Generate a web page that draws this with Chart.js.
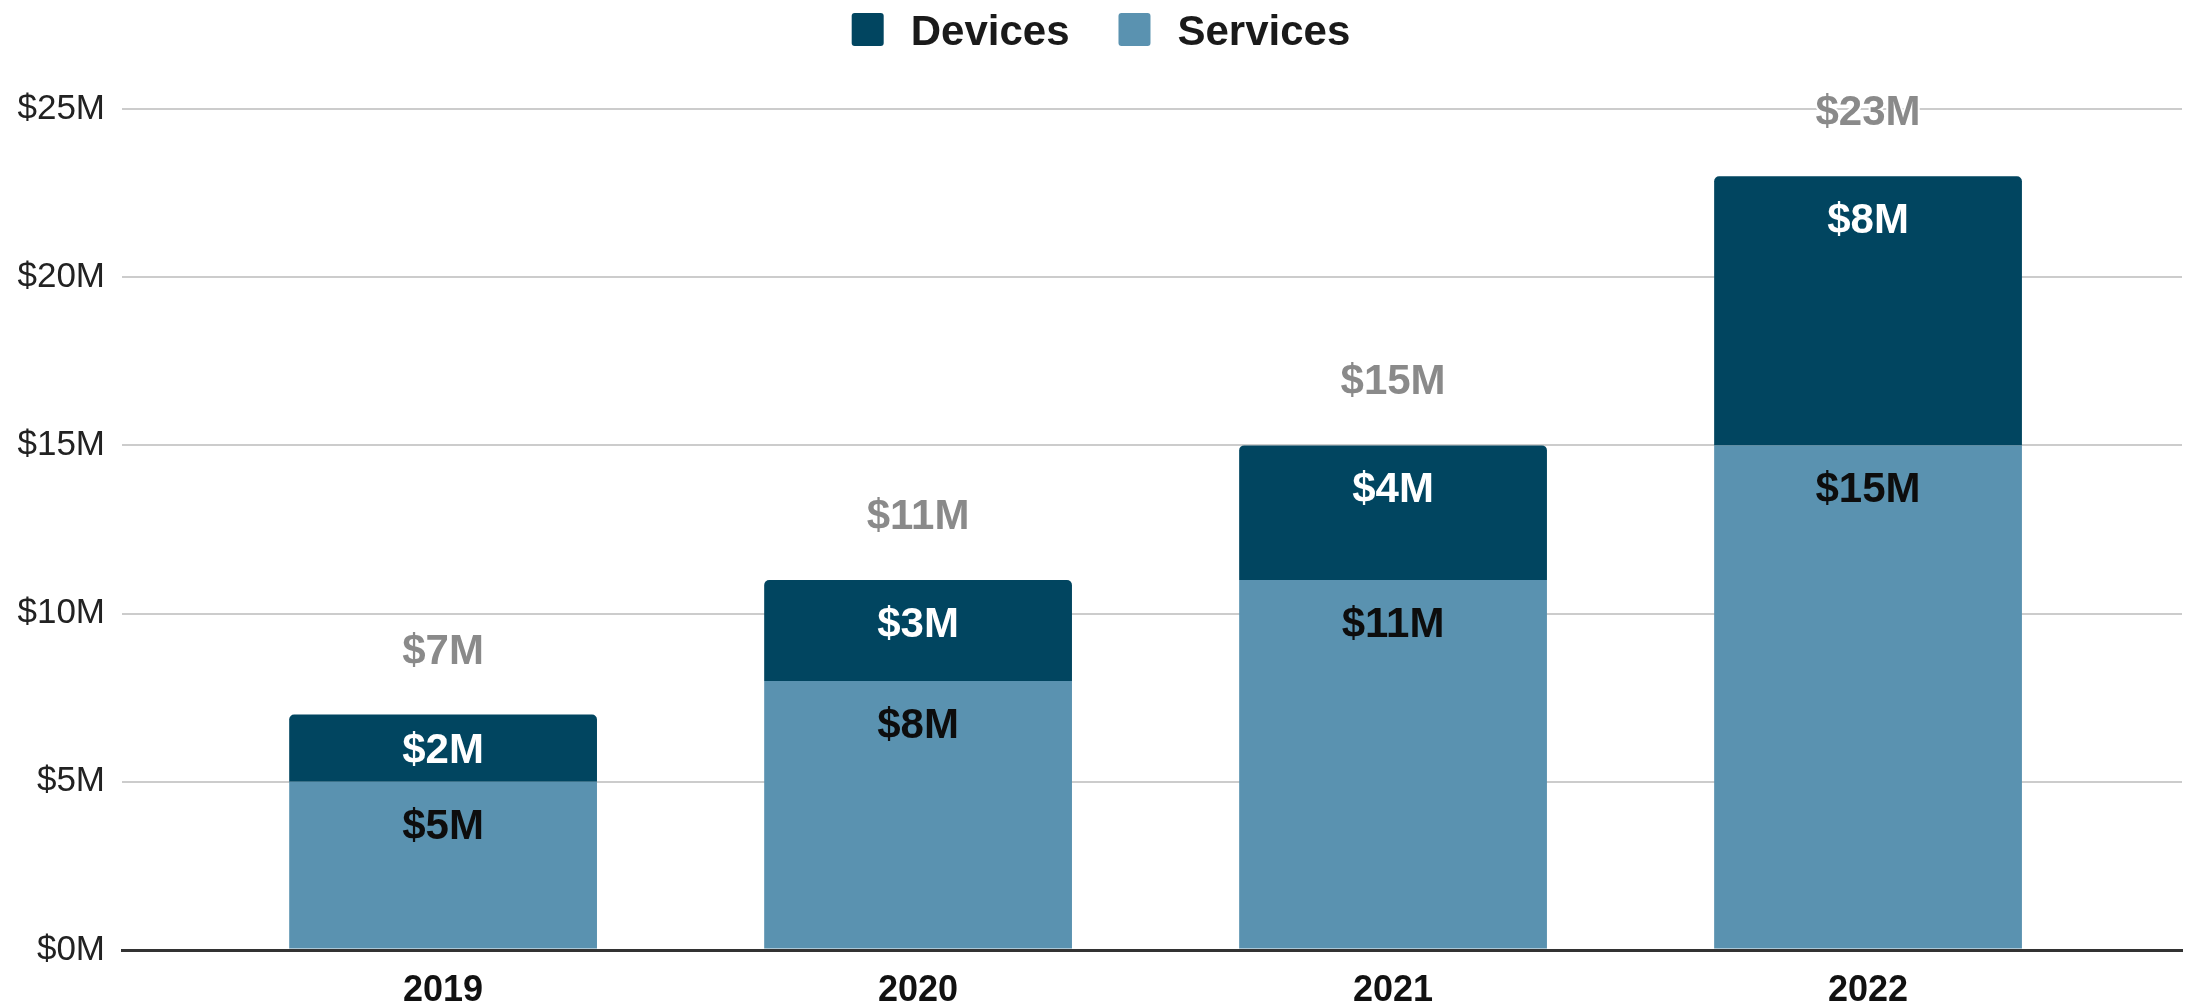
<!DOCTYPE html>
<html>
<head>
<meta charset="utf-8">
<script src="https://cdn.jsdelivr.net/npm/chart.js@4.4.1/dist/chart.umd.min.js"></script>
<style>
html,body{margin:0;padding:0;background:#fff;}
canvas{display:block;}
</style>
</head>
<body>
<canvas id="c" width="2188" height="1003"></canvas>
<script>
const years = ['2019', '2020', '2021', '2022'];
const services = [5, 8, 11, 15];
const devices = [2, 3, 4, 8];
const yTickValues = [0, 5, 10, 15, 20, 25];
const seriesNames = ['Services', 'Devices'];

const FONT = '"Liberation Sans", Arial, Helvetica, sans-serif';
const money = v => '$' + v + 'M';
const totals = services.map((v, i) => v + devices[i]);

const labelPlugin = {
  id: 'barLabels',
  afterDatasetsDraw(chart) {
    const ctx = chart.ctx;
    const mS = chart.getDatasetMeta(0);
    const mD = chart.getDatasetMeta(1);
    ctx.save();
    ctx.font = 'bold 42px ' + FONT;
    ctx.textAlign = 'center';
    ctx.textBaseline = 'alphabetic';
    const capShift = 15;
    years.forEach((yr, i) => {
      const s = mS.data[i].getProps(['x', 'y', 'base'], true);
      const d = mD.data[i].getProps(['x', 'y', 'base'], true);
      const sTop = Math.min(s.y, s.base), sBot = Math.max(s.y, s.base);
      ctx.fillStyle = '#0d0d0d';
      ctx.fillText(money(services[i]), s.x, Math.min(sTop + 42, (sTop + sBot) / 2) + capShift);
      const dTop = Math.min(d.y, d.base), dBot = Math.max(d.y, d.base);
      ctx.fillStyle = '#ffffff';
      ctx.fillText(money(devices[i]), d.x, Math.min(dTop + 42, (dTop + dBot) / 2) + capShift);
      const ty = dTop - 66 + capShift;
      ctx.lineWidth = 4;
      ctx.strokeStyle = '#ffffff';
      ctx.lineJoin = 'round';
      ctx.strokeText(money(totals[i]), d.x, ty);
      ctx.fillStyle = '#8a8a8a';
      ctx.fillText(money(totals[i]), d.x, ty);
    });
    ctx.restore();
  }
};

const legendPlugin = {
  id: 'customLegend',
  afterDraw(chart) {
    const ctx = chart.ctx;
    ctx.save();
    ctx.font = 'bold 42px ' + FONT;
    ctx.textBaseline = 'alphabetic';
    ctx.textAlign = 'left';
    const order = [1, 0];
    const box = 32, gap = 27, itemGap = 49;
    const widths = order.map(k => ctx.measureText(chart.data.datasets[k].label).width);
    let total = 0;
    order.forEach((k, j) => { total += box + gap + widths[j] + (j < order.length - 1 ? itemGap : 0); });
    let x = 1101 - total / 2;
    order.forEach((k, j) => {
      const ds = chart.data.datasets[k];
      ctx.fillStyle = ds.backgroundColor;
      ctx.beginPath();
      ctx.roundRect(x, 13, box, 33, 3);
      ctx.fill();
      x += box + gap;
      ctx.fillStyle = '#1a1a1a';
      ctx.fillText(ds.label, x, 30 + 15);
      x += widths[j] + itemGap;
    });
    ctx.restore();
  }
};

new Chart(document.getElementById('c'), {
  type: 'bar',
  data: {
    datasets: [
      {
        label: seriesNames[0],
        data: services.map((v, i) => ({ x: i, y: v })),
        backgroundColor: '#5a92b0',
        borderWidth: 0,
        barPercentage: 0.648,
        categoryPercentage: 1.0
      },
      {
        label: seriesNames[1],
        data: devices.map((v, i) => ({ x: i, y: v })),
        backgroundColor: '#014560',
        borderWidth: 0,
        borderRadius: 5,
        barPercentage: 0.648,
        categoryPercentage: 1.0
      }
    ]
  },
  options: {
    responsive: false,
    devicePixelRatio: 1,
    animation: false,
    layout: { padding: { top: 109, right: 6, bottom: -29, left: 0 } },
    plugins: {
      legend: { display: false },
      tooltip: { enabled: false }
    },
    scales: {
      x: {
        type: 'linear',
        stacked: true,
        offset: false,
        min: -0.676,
        max: 3.661,
        grid: { display: false, offset: false, drawTicks: false, tickLength: 0 },
        border: { display: true, color: '#333333', width: 3 },
        afterBuildTicks(scale) {
          scale.ticks = years.map((y, i) => ({ value: i }));
        },
        ticks: {
          autoSkip: false,
          maxRotation: 0,
          padding: 23,
          color: '#111111',
          font: { family: FONT, size: 36, weight: 'bold', lineHeight: 1 },
          callback: (v) => years[v] !== undefined ? years[v] : ''
        }
      },
      y: {
        stacked: true,
        min: 0,
        max: 25,
        afterBuildTicks(scale) {
          scale.ticks = yTickValues.map(v => ({ value: v }));
        },
        afterFit(scale) { scale.width = 122; },
        grid: {
          drawTicks: false,
          tickLength: 0,
          color: ctx => ctx.tick && ctx.tick.value === 0 ? '#333333' : '#cccccc',
          lineWidth: ctx => ctx.tick && ctx.tick.value === 0 ? 3 : 2
        },
        border: { display: false },
        ticks: {
          padding: 17,
          color: '#222222',
          font: { family: FONT, size: 35, lineHeight: 1 },
          callback: v => money(v)
        }
      }
    }
  },
  plugins: [labelPlugin, legendPlugin]
});
</script>
</body>
</html>
